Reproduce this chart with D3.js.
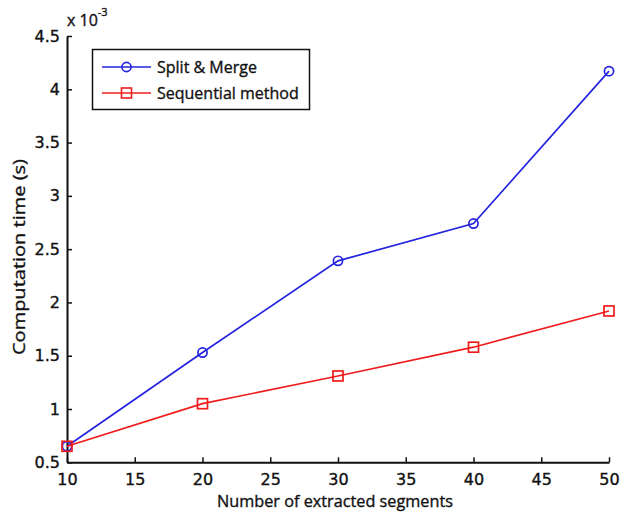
<!DOCTYPE html>
<html>
<head>
<meta charset="utf-8">
<script src="https://cdn.jsdelivr.net/npm/d3@7"></script>
<style>
  body { margin: 0; background: #fff; }
  svg text { font-family: "Open Sans", "DejaVu Sans", sans-serif; fill: #111; stroke: #111; stroke-width: 0.35px; }
</style>
</head>
<body>
<div id="chart"></div>
<script>
// values (seconds, in units of 1e-3)
var segments = [10, 20, 30, 40, 50];
var splitMerge = [0.65, 1.53, 2.39, 2.74, 4.17];
var sequential = [0.65, 1.05, 1.31, 1.58, 1.92];
var xTicks = [10, 15, 20, 25, 30, 35, 40, 45, 50];
var yTicks = [0.5, 1, 1.5, 2, 2.5, 3, 3.5, 4, 4.5];
var seriesNames = ["Split & Merge", "Sequential method"];

var width = 625, height = 514;
var margin = {top: 36, right: 16, bottom: 52, left: 67};

var svg = d3.select("#chart").append("svg")
    .attr("width", width)
    .attr("height", height);

var x = d3.scaleLinear().domain([10, 50]).range([margin.left, width - margin.right]);
var y = d3.scaleLinear().domain([0.5, 4.5]).range([height - margin.bottom + 0.3, margin.top]);

// axes, ticks pointing inward like matlab
var xAxis = d3.axisBottom(x).tickValues(xTicks).tickSizeInner(-5).tickSizeOuter(0).tickPadding(8).tickFormat(d3.format("d"));
var yAxis = d3.axisLeft(y).tickValues(yTicks).tickSizeInner(-5).tickSizeOuter(0).tickPadding(7).tickFormat(function(d){ return d; });

var gx = svg.append("g").attr("transform", "translate(0," + y(0.5) + ")").call(xAxis);
var gy = svg.append("g").attr("transform", "translate(" + x(10) + ",0)").call(yAxis);
[gx, gy].forEach(function(g){
    g.select(".domain").attr("stroke", "#111").attr("stroke-width", 2);
    g.selectAll(".tick line").attr("stroke", "#111").attr("stroke-width", 1.5);
    g.selectAll(".tick text").style("font-size", "16px").attr("fill", "#111")
        .style("font-family", "'DejaVu Sans', sans-serif");
});
gx.selectAll(".tick text").attr("dy", "0.9em");

// exponent label
var expo = svg.append("text").attr("x", x(10)).attr("y", 26).style("font-size", "16px");
expo.append("tspan").text("x 10");
expo.append("tspan").attr("dy", -10).style("font-size", "11px").text("-3");

// axis titles
svg.append("text")
    .attr("x", 335)
    .attr("y", 507)
    .attr("text-anchor", "middle")
    .attr("textLength", 236)
    .attr("lengthAdjust", "spacingAndGlyphs")
    .style("font-size", "16px")
    .text("Number of extracted segments");

svg.append("text")
    .attr("transform", "translate(25,257) rotate(-90)")
    .attr("text-anchor", "middle")
    .attr("textLength", 196)
    .attr("lengthAdjust", "spacingAndGlyphs")
    .style("font-size", "16.5px")
    .text("Computation time (s)");

var line = d3.line()
    .x(function(d){ return x(d[0]); })
    .y(function(d){ return y(d[1]); });

var colors = ["#2424e0", "#f01c1c"];
var series = [splitMerge, sequential];

series.forEach(function(vals, k){
    var pts = segments.map(function(s, i){ return [s, vals[i]]; });
    svg.append("path")
        .datum(pts)
        .attr("fill", "none")
        .attr("stroke", colors[k])
        .attr("stroke-width", 1.7)
        .attr("d", line);
    if (k == 0) {
        svg.append("g").selectAll("circle")
            .data(pts).enter().append("circle")
            .attr("cx", function(d){ return x(d[0]); })
            .attr("cy", function(d){ return y(d[1]); })
            .attr("r", 4.6)
            .attr("fill", "none")
            .attr("stroke", colors[k])
            .attr("stroke-width", 1.7);
    } else {
        svg.append("g").selectAll("rect")
            .data(pts).enter().append("rect")
            .attr("x", function(d){ return x(d[0]) - 5; })
            .attr("y", function(d){ return y(d[1]) - 5; })
            .attr("width", 10)
            .attr("height", 10)
            .attr("fill", "none")
            .attr("stroke", colors[k])
            .attr("stroke-width", 1.7);
    }
});

// legend
var legend = svg.append("g");
legend.append("rect")
    .attr("x", 92.5).attr("y", 49.5)
    .attr("width", 217).attr("height", 60)
    .attr("fill", "#fff").attr("stroke", "#111").attr("stroke-width", 1.5);

seriesNames.forEach(function(name, k){
    var ly = 67 + k * 26;
    legend.append("line")
        .attr("x1", 102).attr("x2", 151)
        .attr("y1", ly).attr("y2", ly)
        .attr("stroke", colors[k]).attr("stroke-width", 1.6);
    if (k == 0) {
        legend.append("circle").attr("cx", 126.5).attr("cy", ly).attr("r", 4.6)
            .attr("fill", "none").attr("stroke", colors[k]).attr("stroke-width", 1.6);
    } else {
        legend.append("rect").attr("x", 121.5).attr("y", ly - 5).attr("width", 10).attr("height", 10)
            .attr("fill", "none").attr("stroke", colors[k]).attr("stroke-width", 1.6);
    }
    legend.append("text")
        .attr("x", 157).attr("y", ly + 6)
        .style("font-size", "16px")
        .text(name);
});
</script>
</body>
</html>
